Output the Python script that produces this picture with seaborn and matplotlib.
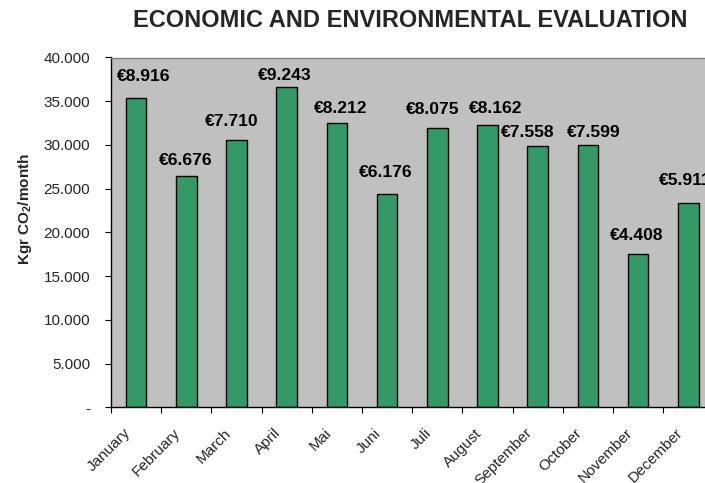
import matplotlib
matplotlib.use("Agg")
import matplotlib.pyplot as plt
import seaborn as sns
import pandas as pd
from matplotlib.ticker import FixedLocator, FuncFormatter
from matplotlib.transforms import ScaledTranslation

# Monthly CO2 savings (kg) and the matching savings in euro
months = ["January", "February", "March", "April", "Mai", "Juni",
          "Juli", "August", "September", "October", "November", "December"]
co2_kg = [35400, 26450, 30600, 36600, 32500, 24420,
          31950, 32300, 29900, 30050, 17490, 23400]
euro_savings = [8916, 6676, 7710, 9243, 8212, 6176,
                8075, 8162, 7558, 7599, 4408, 5911]
y_ticks = [0, 5000, 10000, 15000, 20000, 25000, 30000, 35000, 40000]

# hand placement of the euro labels (pixels right / above the bar top)
label_dx = [7.5, -1, -5, -1.5, 4, -1.5, -4.5, 8, -10, 5.5, -1, -3.5]
label_dy = [22.7, 17, 19.7, 13, 16.3, 23, 20.4, 17.7, 14.7, 13.3, 21, 24.4]

df = pd.DataFrame({"month": months, "co2": co2_kg, "euro": euro_savings})

sns.set_theme(style="white")
plt.rcParams["font.family"] = ["Liberation Sans", "DejaVu Sans"]
plt.rcParams["mathtext.fontset"] = "custom"
plt.rcParams["mathtext.rm"] = "Liberation Sans"
plt.rcParams["mathtext.bf"] = "Liberation Sans:bold"

W, H = 705, 483
PT = 72 / 100  # points per pixel at 100 dpi
fig = plt.figure(figsize=(W / 100, H / 100), dpi=100)
left, right, top, bottom = 111, 713.4, 57.5, 407.3
ax = fig.add_axes([left / W, (H - bottom) / H, (right - left) / W, (bottom - top) / H])
ax.set_facecolor("#C0C0C0")

sns.barplot(data=df, x="month", y="co2", color="#339966", saturation=1,
            edgecolor="black", linewidth=1.0, width=0.41, ax=ax)

ax.set_xlim(-0.5, len(months) - 0.5)
ax.set_ylim(0, 40000)

# value labels in euro above each bar
label_size = 12.6
cap_half = label_size / PT * 0.716 / 2
for i, (v, e) in enumerate(zip(co2_kg, euro_savings)):
    txt = "\u20ac" + f"{e:,}".replace(",", ".")
    ax.annotate(txt, (i, v),
                xytext=(label_dx[i] * PT, (label_dy[i] - cap_half) * PT),
                textcoords="offset points", ha="center", va="baseline",
                fontsize=label_size, fontweight="bold", color="black",
                annotation_clip=False)

# y axis: thousands with dots, zero as a dash
ax.yaxis.set_major_locator(FixedLocator(y_ticks))
ax.yaxis.set_major_formatter(FuncFormatter(
    lambda v, p: "-" if v == 0 else f"{v:,.0f}".replace(",", ".")))
ax.tick_params(axis="y", which="major", direction="out", length=4.5, width=0.8,
               color="black", labelsize=11, pad=10.5, left=True)

# x axis: labels at category centres, ticks between categories
ax.set_xticks(range(len(months)))
ax.set_xticklabels(months, rotation=45, ha="right", va="center",
                   rotation_mode="anchor", fontsize=11)
ax.tick_params(axis="x", which="major", length=0, pad=17)
shift = ScaledTranslation(-8 / 100, 0, fig.dpi_scale_trans)
for lab in ax.get_xticklabels():
    lab.set_transform(lab.get_transform() + shift)
ax.set_xticks([i - 0.5 for i in range(len(months))], minor=True)
ax.tick_params(axis="x", which="minor", direction="out", length=4, width=0.8,
               color="black", bottom=True)

ax.set_xlabel("")
ax.set_ylabel("")

for side in ("left", "bottom"):
    ax.spines[side].set_color("black")
    ax.spines[side].set_linewidth(1.0)
for side in ("top", "right"):
    ax.spines[side].set_color("#808080")
    ax.spines[side].set_linewidth(1.0)

fig.text(410 / W, 1 - 26.7 / H, "ECONOMIC AND ENVIRONMENTAL EVALUATION",
         ha="center", va="baseline", fontsize=17, fontweight="bold")
fig.text(25 / W, 1 - 209 / H, r"Kgr CO$_\mathbf{2}$/month", rotation=90,
         ha="center", va="center", fontsize=11, fontweight="bold")

fig.savefig("out.png", dpi=100)
